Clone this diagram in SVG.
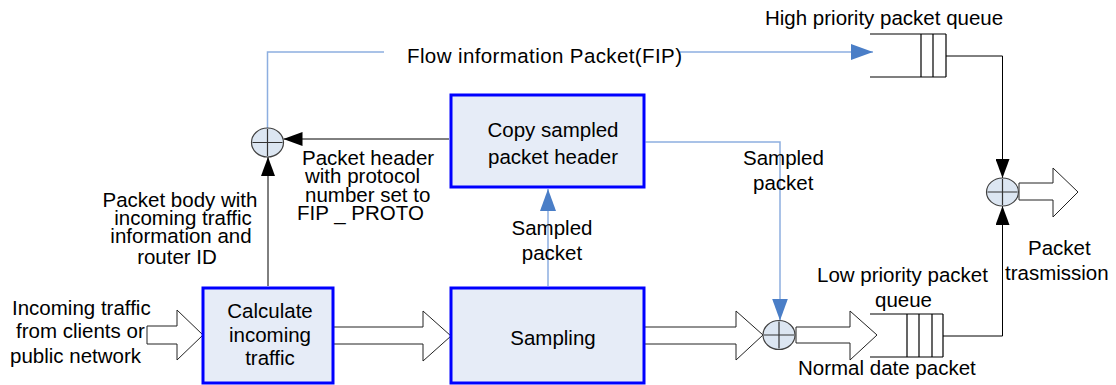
<svg xmlns="http://www.w3.org/2000/svg" width="1116" height="385" viewBox="0 0 1116 385">
<style>
text{font-family:"Liberation Sans",Arial,sans-serif;font-size:20.5px;fill:#000}
.m{text-anchor:middle}
.box{fill:#E6ECF7;stroke:#0000FF;stroke-width:3}
.sum{fill:#DCE6F2;stroke:#404040;stroke-width:1.2}
.plus{stroke:#333;stroke-width:1.2;fill:none}
.blk{fill:#fff;stroke:#222;stroke-width:1}
.q{stroke:#000;stroke-width:1.2;fill:none}
.bl{stroke:#000;stroke-width:1;fill:none}
.blue{stroke:#8DAEE0;stroke-width:1.5;fill:none}
</style>
<defs>
<marker id="ak" markerUnits="userSpaceOnUse" markerWidth="19" markerHeight="14" viewBox="0 0 19 14" refX="19" refY="7" orient="auto"><path d="M0,0 L19,7 L0,14 z" fill="#000"/></marker>
<marker id="ab" markerUnits="userSpaceOnUse" markerWidth="22" markerHeight="16" viewBox="0 0 22 16" refX="22" refY="8" orient="auto"><path d="M0,0 L22,8 L0,16 z" fill="#4A7EC7"/></marker>
</defs>

<g id="connectors">
<path class="blue" d="M267.5,128 V52 H384"/>
<path class="blue" d="M680,52 H873" marker-end="url(#ab)"/>
<path class="bl" d="M449,139 H283.5" marker-end="url(#ak)"/>
<path class="bl" d="M268,286 V157" marker-end="url(#ak)"/>
<path class="blue" d="M548,286 V189" marker-end="url(#ab)"/>
<path class="blue" d="M645.5,142 H780 V320.5" marker-end="url(#ab)"/>
<path class="bl" d="M946,56 H1002.5 V178" marker-end="url(#ak)"/>
<path class="bl" d="M943,336 H1002.5 V206" marker-end="url(#ak)"/>
<polygon class="blk" points="147,326 177,326 177,310 203,335 177,360 177,344 147,344"/>
<polygon class="blk" points="333,327 423,327 423,311 451,336 423,361 423,344 333,344"/>
<polygon class="blk" points="644,327 736,327 736,311 763,335 736,360 736,344 644,344"/>
<polygon class="blk" points="796,327 850,327 850,311 877,335 850,360 850,343 796,343"/>
<polygon class="blk" points="1019,183 1053,183 1053,168 1078,192 1053,217 1053,200 1019,200"/>
</g>

<g id="label-fip">
<text x="407" y="63" textLength="275" lengthAdjust="spacing">Flow information Packet(FIP)</text>
</g>

<g id="high-queue">
<text x="765" y="25">High priority packet queue</text>
<path class="q" d="M870,34 H946 M870,77 H946 M921,34 V77 M933,34 V77 M946,34 V77"/>
</g>

<g id="low-queue">
<text x="817" y="282">Low priority packet</text>
<text x="875" y="307">queue</text>
<path class="q" d="M870,314 H943 M870,357 H943 M907,314 V357 M919,314 V357 M932,314 V357 M943,314 V357"/>
<text x="798" y="375">Normal date packet</text>
</g>

<g id="copy-header">
<rect class="box" x="451" y="95" width="193" height="92"/>
<text class="m" x="553" y="137">Copy sampled</text>
<text class="m" x="553" y="164">packet header</text>
</g>

<g id="calculate">
<rect class="box" x="203" y="288" width="130" height="95"/>
<text class="m" x="270" y="318">Calculate</text>
<text class="m" x="270" y="342">incoming</text>
<text class="m" x="270" y="365">traffic</text>
</g>

<g id="sampling">
<rect class="box" x="451" y="288" width="193" height="95"/>
<text class="m" x="553" y="345">Sampling</text>
</g>

<g id="sum-fip">
<ellipse class="sum" cx="267.5" cy="142.5" rx="16" ry="14.5"/>
<path class="plus" d="M252.5,142.5 H282.5 M267.5,129 V156"/>
</g>

<g id="sum-low">
<ellipse class="sum" cx="779" cy="335" rx="16" ry="14.5"/>
<path class="plus" d="M764,335 H794 M779,321.5 V348.5"/>
</g>

<g id="sum-out">
<ellipse class="sum" cx="1002.5" cy="192" rx="16" ry="14"/>
<path class="plus" d="M987.5,192 H1017.5 M1002.5,179 V205"/>
</g>

<g id="labels">
<text x="302" y="165">Packet header</text>
<text x="305" y="183">with protocol</text>
<text x="305" y="202">number set to</text>
<text x="297" y="220">FIP _ PROTO</text>
<text x="743" y="165">Sampled</text>
<text x="753" y="190">packet</text>
<text class="m" x="180" y="207">Packet body with</text>
<text class="m" x="183" y="225">incoming traffic</text>
<text class="m" x="181" y="243">information and</text>
<text class="m" x="177" y="264">router ID</text>
<text class="m" x="552" y="235">Sampled</text>
<text class="m" x="552" y="260">packet</text>
<text x="12" y="315">Incoming traffic</text>
<text x="16" y="338">from clients or</text>
<text x="10" y="363">public network</text>
<text x="1028" y="255">Packet</text>
<text x="1005" y="280">trasmission</text>
</g>
</svg>
